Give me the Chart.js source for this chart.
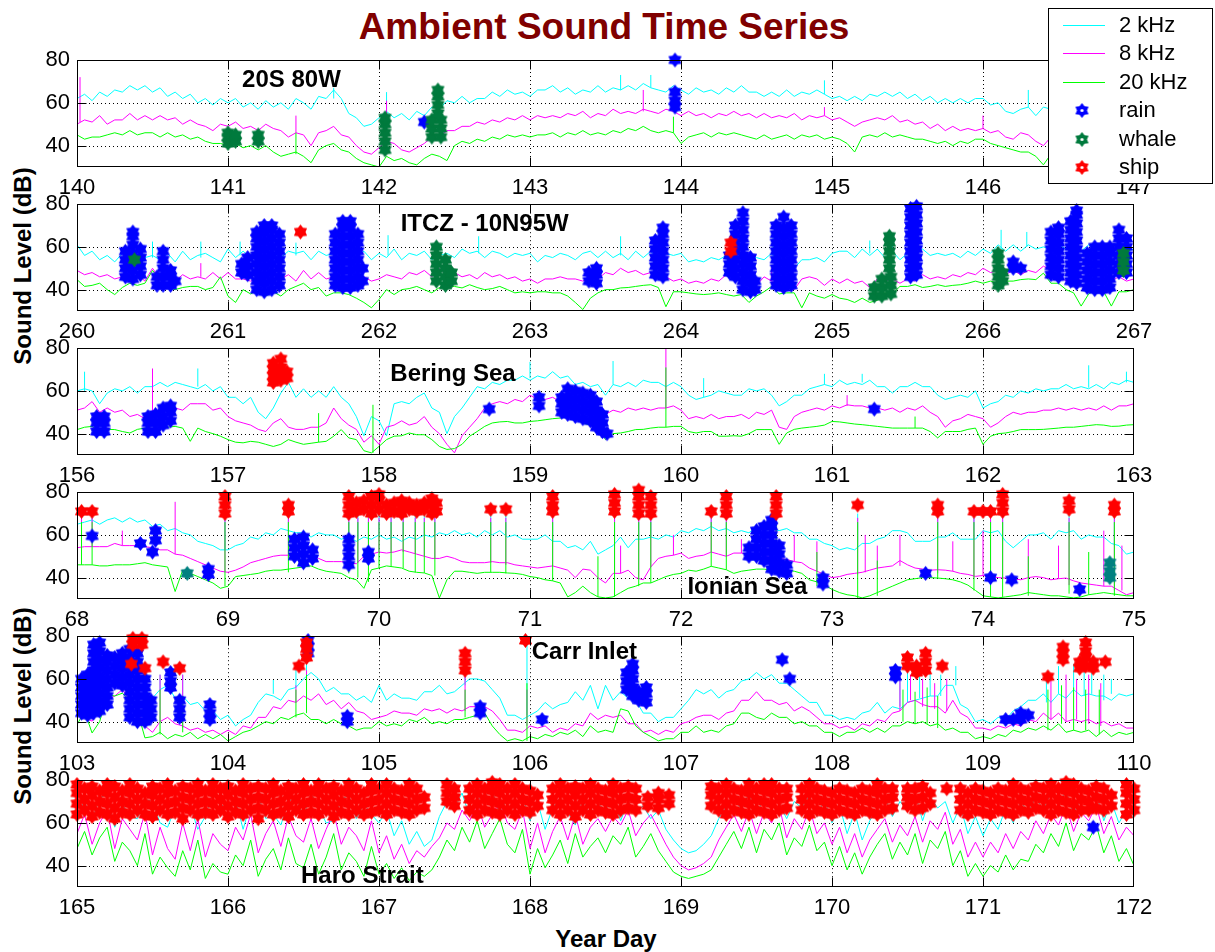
<!DOCTYPE html>
<html>
<head>
<meta charset="utf-8">
<script src="https://cdn.jsdelivr.net/npm/chart.js@4.4.1/dist/chart.umd.min.js"></script>
<style>
  body { margin: 0; background: #fff; width: 1215px; height: 952px; position: relative; overflow: hidden;
         font-family: "Liberation Sans", Arial, sans-serif; }
  canvas.panel { position: absolute; left: 0; }
  #title { position: absolute; left: 0; top: 8px; width: 1208px; text-align: center; font: bold 37px/37px "Liberation Sans", Arial, sans-serif; color: #800000; }
  .ylab { position: absolute; width: 300px; text-align: center; font: bold 24px/24px "Liberation Sans", Arial, sans-serif; transform: rotate(-90deg); }
  #xlab { position: absolute; left: 456px; top: 927px; width: 300px; text-align: center; font: bold 24px/24px "Liberation Sans", Arial, sans-serif; }
</style>
</head>
<body>
<div id="title">Ambient Sound Time Series</div>
<div class="ylab" style="left:-127px; top:254px">Sound Level (dB)</div>
<div class="ylab" style="left:-127px; top:694px">Sound Level (dB)</div>
<div id="xlab">Year Day</div>
<script>
// ── Data ──────────────────────────────────────────────────────────────────
// one value every 0.05 day from the first day of each panel
const STEP = 0.05;
const FIRST_DAY = [140, 260, 156, 68, 103, 165];
const SITES = ['20S 80W', 'ITCZ - 10N95W', 'Bering Sea', 'Ionian Sea', 'Carr Inlet', 'Haro Strait'];
const DB_TICKS = [40, 60, 80];

// 20S 80W
const kHz2_1 = [62,64,61,65,63,66,65,68,66,68, 65,67,63,65,62,64,60,62,59,62,
  60,62,58,60,57,61,58,60,57,62, 60,57,63,62,66,62,55,53,49,50,
  53,56,53,55,52,56,54,58,57,61, 60,63,60,62,62,65,63,66,64,65,
  63,66,66,68,65,67,64,66,65,68, 65,67,66,68,66,69,67,66,65,68,
  66,64,67,65,66,64,67,65,68,65, 65,63,65,63,66,63,65,64,66,64,
  62,63,61,63,61,64,63,65,63,65, 62,64,61,63,60,62,60,62,60,62,
  62,59,60,56,55,57,58,54,58,57, 60,58,59,57,59,57,58,60,57,59, 59];
const kHz8_1 = [50,52,51,54,50,52,52,55,52,54, 52,54,52,53,50,52,50,49,47,50,
  49,51,48,49,47,50,48,47,44,46, 45,40,46,47,49,45,44,40,37,36,
  39,42,41,38,37,39,41,44,44,47, 47,49,49,51,50,52,51,53,52,54,
  52,54,53,54,53,55,54,56,53,55, 54,57,55,56,55,57,56,55,57,56,
  54,56,54,55,53,55,54,56,54,55, 53,55,53,54,53,55,52,54,53,54,
  52,53,51,49,51,52,53,52,54,51, 52,50,51,48,50,47,49,47,48,47,
  48,46,47,44,43,46,45,42,40,44, 46,44,45,44,45,43,45,44,45,44, 45];
const kHz20_1 = [45,43,44,44,45,46,45,47,45,46, 46,44,46,44,45,43,44,42,41,41,
  40,41,39,40,38,40,37,35,36,37, 35,32,38,40,41,38,37,34,32,31,
  30,35,33,34,32,31,34,36,35,33, 40,42,41,43,42,44,43,45,44,45,
  44,45,45,46,44,46,45,47,45,46, 45,47,46,48,47,49,47,46,47,46,
  41,44,45,46,44,46,45,46,45,44, 43,45,43,44,45,43,45,44,45,43,
  44,43,41,37,44,45,44,46,44,45, 44,43,43,42,41,42,40,42,41,43,
  43,41,40,39,38,37,37,35,31,36, 38,36,37,36,37,35,37,36,37,36, 37];
// short spikes: [day, level before, peak]
const spk2_1 = [[141.7, 62, 67], [142.05, 56, 65], [143.6, 66, 73], [143.8, 67, 73], [144.95, 64, 70.5], [146.3, 58, 66]];
const spk8_1 = [[140.02, 51, 72], [141.45, 46, 54], [142.05, 42, 61], [143.75, 56, 66], [143.95, 56, 67], [144.95, 54, 58], [146.0, 48, 54]];
const spk20_1 = [[141.45, 36, 46], [143.95, 46, 53.5]];
const rain_1 = [[142.3, 51], [143.96, 58,61,65], [143.96, 80]];
const whale_1 = [[141.0, 41,44,46], [141.05, 42,45], [141.2, 42,45], [142.04, 38,42,46,50,53],
  [142.35, 44,48,52], [142.41, 44,48,52], [142.39, 55,59,63,66]];
const ship_1 = [];

// ITCZ - 10N95W
const kHz2_2 = [61,56,58,54,56,53,57,52,54,55, 56,54,57,53,58,54,56,57,55,53,
  59,55,58,55,56,54,57,55,58,57, 58,54,58,56,57,53,58,55,58,54,
  57,55,59,54,57,56,58,54,56,57, 55,59,57,58,55,58,57,55,57,56,
  57,53,56,55,57,56,54,57,58,55, 58,55,57,54,58,55,58,54,57,56,
  57,53,54,53,55,54,56,56,59,55, 55,54,57,53,53,50,54,54,55,53,
  57,58,58,55,59,56,59,55,58,54, 57,57,59,56,57,56,57,55,58,56,
  59,57,61,58,61,58,61,59,60,59, 61,59,61,58,61,58,59,58,61,58, 59];
const kHz8_2 = [49,47,48,46,47,45,46,45,47,44, 50,45,45,44,47,45,46,45,48,45,
  48,45,45,44,45,44,45,45,47,44, 49,45,48,45,46,44,46,43,46,44,
  45,47,46,45,48,47,49,46,50,47, 48,46,47,45,48,46,47,45,46,44,
  45,43,45,45,46,45,45,44,46,45, 48,47,50,48,49,47,48,45,46,44,
  45,43,44,43,45,44,47,46,48,46, 42,46,44,44,41,40,45,46,45,42,
  45,43,45,43,44,41,45,44,45,43, 45,44,47,45,46,45,47,46,48,47,
  50,48,49,47,49,47,49,48,51,49, 47,44,47,44,46,44,46,44,46,44, 45];
const kHz20_2 = [44.7,41.5,42,43,40,37.7,41,43,42,43, 49,44.7,41,40,41,41.5,41.5,40,41,46,
  37,34,40,38,40,37,39,37,40,41.5, 43,40,41,37,38.5,38.5,37.7,36,34,31.5,
  35.4,40,37.7,40,40.5,41.5,40,38.5,41,41.5, 41.5,40.8,42.3,41,40,40.5,41.5,40,38.5,39,
  38.5,39,39,38.5,38.5,37,34,30.7,36,38.5, 40,40,40.8,41,41.5,42,42.3,41,32,39,
  39,38.5,38,37.7,38,38.5,37.7,37,37.7,34, 37,39,41.5,38,38.5,38.5,31.5,38.5,37,36,
  37.7,36,35.4,34,36,34,35,38.5,38,41.5, 41.5,42.3,41,41.5,42.3,41.5,42,42.3,43,44,
  43,44,43,44,44,44.7,45,44.7,47.7,43, 43,40,38.5,32.3,38,40,39,32.3,39,39, 40];
const spk2_2 = [[260.5, 55, 62.5], [260.82, 55, 62.5], [261.08, 56, 62.5], [261.45, 56, 62], [262.06, 56, 65.5],
  [262.66, 57, 65], [263.6, 56, 65], [264.61, 55, 66], [265.25, 57, 63], [265.4, 57, 66], [266.12, 59, 68], [266.29, 60, 67]];
const spk8_2 = [[260.82, 46, 52.4], [264.6, 44, 50]];
const spk20_2 = [];
const rain_2 = [
  [260.32, 46,50,54,58], [260.37, 45,49,53,57,61,65,67], [260.42, 47,51,55,59],
  [260.53, 42,46], [260.57, 42,46,50,54,58], [260.62, 42,46,49], [260.65, 44],
  [261.09, 48,52], [261.13, 47,51,55],
  [261.19, 40,44,48,52,56,60,64,67], [261.24, 39,43,47,51,55,59,63,67,70],
  [261.29, 40,44,48,52,56,60,64,68,70], [261.34, 42,46,50,54,58,62,66],
  [261.71, 42,46,50,54,58,62,66], [261.76, 41,45,49,53,57,61,65,69,72],
  [261.81, 41,45,49,53,57,61,65,69,72], [261.86, 42,46,50,54,58,62,66], [261.89, 44,50],
  [263.39, 44,48], [263.44, 43,47,50],
  [263.83, 47,51,55,59,63], [263.88, 46,50,54,58,62,66,69],
  [264.32, 48,52,56], [264.36, 46,50,54,58,62,66,70], [264.41, 40,44,48,52,56,60,64,68,72,76],
  [264.46, 39,43,47,51,55], [264.49, 40,44],
  [264.63, 42,46,50,54,58,62,66,70], [264.68, 41,45,49,53,57,61,65,69,74], [264.73, 42,46,50,54,58,62,66,70],
  [265.52, 46,50,54,58,62,66,70,74,78], [265.56, 47,51,55,59,63,67,71,75,79],
  [266.2, 50,53], [266.25, 50],
  [266.45, 47,51,55,59,63,67], [266.5, 46,50,54,58,62,66,69],
  [266.58, 44,48,52,56,60,64,68,72], [266.62, 43,47,51,55,59,63,67,71,75,77],
  [266.69, 41,45,49,53,57], [266.74, 40,44,48,52,56,60], [266.79, 40,44,48,52,56,60], [266.84, 41,45,49,53,57,60],
  [266.9, 48,52,56,60,64,68], [266.95, 48,52,56,60,64]];
const whale_2 = [[260.38, 54], [262.38, 44,48,52,56,60], [262.44, 42,46,50,54], [262.48, 44,48],
  [265.38, 50,54,58,62,65], [265.28, 37,41], [265.33, 37,41,45], [265.39, 38,42,46],
  [266.1, 42,46,50,54,57], [266.13, 44,48], [266.93, 49,53,57]];
const ship_2 = [[261.48, 67], [264.33, 58,62]];

// Bering Sea
const kHz2_3 = [60,61,60,54,59,61,60,62,59,62, 62,64,62,64,63,62,61,63,60,62,
  57,57,54,57,50,47,52,59,64,57, 61,57,60,57,62,57,54,48,39,48,
  46,39,54,55,54,57,59,52,50,40, 48,52,57,62,61,64,63,65,65,67,
  65,67,66,69,66,67,63,64,62,63, 58,63,62,64,62,65,64,64,62,64,
  62,58,56,57,58,60,59,58,58,61, 60,61,58,53,55,58,58,61,62,63,
  62,65,63,64,63,65,62,62,59,62, 62,64,62,62,58,56,57,58,57,60,
  52,54,55,58,57,60,59,61,60,61, 61,63,61,62,61,63,61,64,63,65, 64];
const kHz8_3 = [51,52,55,50,52,50,51,48,49,47, 48,50,49,52,51,54,54,54,51,52,
  48,46,45,44,42,41,45,47,43,42, 42,43,43,45,52,47,44,42,36,39,
  35,43,44,46,44,45,48,43,40,35, 31,39,43,47,52,54,55,54,56,55,
  58,56,56,57,55,56,53,52,51,50, 49,51,50,52,51,52,51,52,52,53,
  51,47,48,47,49,47,48,48,49,47, 50,49,51,43,42,48,50,51,52,51,
  53,52,53.5,53,53,52,52,51,52,50, 52,51,53,50,48,43,46,47,49,48,
  47,43,45,48,50,49,50,50,51,51, 52,51,52,51,52,51,53,51,53,53, 54];
const kHz20_3 = [41.9,43,43.4,41,42,41.9,41,40.3,42,42.6, 42,41.9,43,43.4,42.6,36.4,42.6,41,40,38.8,
  37.2,36,35.7,36.4,36,35,34,35,37.2,36, 35,35.5,36,36.4,38.8,41.9,38,37.2,32,31,
  34,37.2,38.8,39,40.3,39.5,39.5,37.2,34,32.6, 33,35,38.8,41,43.4,45,45.5,45.7,45,45,
  45.7,46,46.5,47,47.3,48,47.3,45,44,43.4, 37.2,40,40.3,41,41.9,42,42.6,43,43,43.4,
  43.4,41,40.3,41,41,38.8,38.8,39,38.8,40, 41.9,41.9,41.9,35,40.3,42,42.6,43,43.4,44,
  45.7,45.5,45,44.5,44.2,43.8,43.4,43,42.6,42.6, 42.6,42.6,42.6,41,38,41,41,41,42,42.6,
  35,38.8,40,40.3,41,41.9,41.9,41.9,42,42.3, 42.6,43,43,43.4,43.8,44.2,44,43.4,43.5,44, 44.2];
const spk2_3 = [[156.05, 60, 69], [156.8, 62, 70.5], [159.0, 66, 73.6], [159.55, 63, 74], [160.15, 57, 66],
  [160.95, 63, 68], [161.2, 64, 68], [162.7, 61.5, 72], [162.95, 64, 69]];
const spk8_3 = [[156.5, 48, 70.5], [159.9, 52, 82], [161.1, 53, 58]];
const spk20_3 = [[157.6, 36, 49.6], [157.96, 31, 53.5], [159.9, 43, 71], [161.55, 42.6, 48]];
const rain_3 = [[156.13, 41,45,48], [156.18, 41,45,48], [156.47, 41,45,48], [156.52, 41,45,49],
  [156.57, 44,48,52], [156.62, 46,50,53], [158.73, 51.5], [159.06, 53,57],
  [159.21, 50,54,57], [159.25, 49,53,57,61], [159.3, 48,52,56,60], [159.35, 47,51,55,59],
  [159.4, 46,50,54,58], [159.44, 43,47,51,55], [159.48, 41,45,49], [159.51, 40], [161.28, 51.5]];
const whale_3 = [];
const ship_3 = [[157.3, 64,67,70,73], [157.35, 65,68,71,75], [157.39, 66,69]];

// Ionian Sea
const kHz2_4 = [65,66,67,65,67,68,66,68,66,67, 64,65,62,63,61,60,57,56,55,53,
  53,55,56,59,58,61,60,63,62,61, 61,59,61,60,60,58,59,57,59,58,
  60,58,59,57,59,58,60,59,61,60, 62,60,61,59,62,60,62,59,60,58,
  58,58,60,57,57,54,55,53,57,51, 53,55,59,54,58,58,59,58,60,59,
  62,61,63,62,64,62,63,61,62,61, 64,62,63,62,63,61,61,58,58,56,
  55,53,54,53,56,56,58,59,62,62, 61,57,57,57,59,59,61,58,58,58,
  62,61,62,57,54,57,60,60,61,58, 62,61,62,58,60,59,59,56,55,51, 52];
const kHz8_4 = [54,54.5,54.5,54.5,54.5,56,55,55,55,54.5, 54,53,53,51,50.5,49,47.5,46,44.5,43,
  42.5,43.5,45,47,48,49,50,50.5,50.5,50, 50.5,50.5,49,47.5,47.5,47.5,47,46.5,50,51,
  52,51.5,52,53,52,51,50,49,49,50, 49,47.5,47,47,47,47.5,47,47,46,45.5,
  45,44.5,45,45.5,44.5,43.5,40,44,43.5,40, 37.5,42,42,43.5,40,39,45,49,50,50.5,
  51.5,49,50,50.5,52,51,50,51.5,51.5,51, 50.5,50,49.5,49,48.5,47.5,47,44.5,43,41.5,
  40,40.5,41.5,42,42.5,43.5,44.5,45,45.5,48, 46,44.5,44,43.5,43.7,43.5,43,42,41.5,40.6,
  41,40.6,40,39.8,39.5,39,40,40.5,40,39, 39.5,39.8,38.5,37.5,37,36.5,36,36,34,32, 33];
const kHz20_4 = [46,46,46,45.5,45.5,46,46,46,46.5,47, 46,45.5,45,33.5,43.5,42,40.5,39,37.5,35,
  36,40.5,41,41.5,42,43,43.5,43.5,44,44.5, 45,45.5,44,43,42.5,42,40,39,35,43.7,
  44.5,45.5,45,44.5,43,42.5,42.2,41,30.5,39, 43,43,42.5,42,42.5,42.5,42.5,42.2,42,41.5,
  40.5,40,39,38.5,37.5,31,33,36,33,31, 30.5,31,33,35,36,37.5,37.5,39,40.5,41.5,
  42,43.5,43,44,45.3,44.5,43.7,42,43,43.5, 44,44,43.5,43.7,43.5,43,42,39,38,36.5,
  34.5,33,32,31.5,30.5,31.5,33,34.5,36,37.5, 39,39.5,40,40,39.8,39.5,39,38,36.5,34,
  31.5,31,30.5,31,31.5,32,33,32.5,32,31.5, 31.5,31,30.5,31,32,32.5,33,32.5,32,31.5, 31.5];
const spk2_4 = [[68.03,66,70], [68.1,66,70], [68.98,53,70], [69.4,59,70], [69.8,59,70], [69.86,58,70], [69.93,58,70],
  [70.0,60,70], [70.08,58,70], [70.16,59,70], [70.24,58,70], [70.3,60,70], [70.37,61,70], [70.74,60,70], [70.84,59,70],
  [71.15,57,70], [71.56,55,70], [71.72,58,70], [71.8,59,70], [72.2,64,70], [72.3,63,70], [72.63,62,70], [73.17,54,70],
  [73.7,59,70], [73.94,58,70], [74.05,61,70], [74.13,57,70], [74.57,61,70], [74.87,55,70]];
const spk8_4 = [[68.03,54.5,68], [68.1,54.5,68], [68.98,42.5,68], [69.4,49,68], [69.8,47,68], [69.86,47,68], [69.93,50,68],
  [70.0,52,68], [70.08,52,68], [70.16,52,68], [70.24,51,68], [70.3,50,68], [70.37,49,68], [70.74,47,68], [70.84,46,68],
  [71.15,45.5,68], [71.56,42,68], [71.72,40,68], [71.8,45,68], [72.2,52,68], [72.3,50,68], [72.63,49,68], [73.17,41.5,68],
  [73.7,42,68], [73.94,40,68], [74.05,40.6,68], [74.13,39.8,68], [74.57,36.5,68], [74.87,34,68],
  [68.3,55,62], [68.65,51,75.5], [71.6,42,55], [71.95,50.5,60], [72.4,51.5,58], [72.5,50.5,62], [72.75,47.5,60],
  [72.9,43,57], [73.22,42.5,60], [73.3,44.5,55], [73.45,45.5,60], [73.8,43,57], [74.0,41,62], [74.3,40,58],
  [74.5,39.5,55], [74.8,36,62], [74.92,34,55]];
const spk20_4 = [[68.03,46,66], [68.1,46,66], [68.98,36,66], [69.4,42.5,66], [69.8,42,66], [69.86,40,66], [69.93,38,66],
  [70.0,44.5,66], [70.08,45,66], [70.16,44.5,66], [70.24,42.5,66], [70.3,42.2,66], [70.37,41,66], [70.74,42.5,66],
  [70.84,42,66], [71.15,38.5,66], [71.56,31,66], [71.72,36,66], [71.8,37.5,66], [72.2,45.3,66], [72.3,43.7,66],
  [72.63,43.5,66], [73.17,30.5,66], [73.7,39.8,66], [73.94,34,66], [74.05,31,66], [74.13,31,66], [74.57,32.5,66],
  [74.87,31.5,66], [71.45,31,50], [72.9,36,52], [73.3,31.5,48], [74.3,31.5,50], [74.7,32,52]];
const rain_4 = [[68.1, 59.5], [68.42, 56], [68.52, 57.5,62], [68.5, 52], [68.87, 41.5,44],
  [69.44, 50,54,58], [69.5, 47,51,55,59], [69.56, 49,53], [69.8, 46,50,54,58], [69.93, 49,52],
  [72.45, 50,54], [72.5, 50,54,58,62], [72.55, 48,52,56,60,64], [72.6, 44,48,52,56,60,64,67],
  [72.65, 43,47,51,55], [72.7, 42,46], [72.94, 37,40], [73.62, 42], [74.05, 40], [74.19, 39], [74.64, 34.5]];
const whale_4 = [[68.73, 42], [74.84, 40,43,47]];
const ship_4 = [[68.03, 71], [68.1, 71], [68.98, 70,74,78], [69.4, 71,74],
  [69.8, 70,74,78], [69.85, 71,75], [69.9, 72,76], [69.95, 70,74,78], [70.0, 72,76,79], [70.05, 70,74],
  [70.1, 71,75], [70.15, 70,73,76], [70.2, 72,75], [70.25, 71,74], [70.3, 72,75], [70.35, 70,74,77], [70.38, 71,75],
  [70.74, 72], [70.84, 72], [71.15, 71,74,78], [71.56, 71,75,79], [71.72, 70,74,78,81], [71.8, 70,74,78],
  [72.2, 71], [72.3, 70,74,78], [72.63, 70,74,78], [73.17, 74], [73.7, 71,74],
  [73.94, 71], [74.0, 71], [74.05, 71], [74.13, 71,75,79], [74.57, 72,76], [74.87, 71,74]];

// Carr Inlet
const kHz2_5 = [55.7,58,62,60,56,60,63,58,57,55, 51,55,57,51,52,48,49,45,45,41,
  43,38,41,43,49,53,52,50,55,56, 60,63,60,54,56,53,53,50,52,49,
  57,50,53,51,51,50,54,54,57,53, 54,57,60,60,59,55,51,43,43,41,
  43,45,49,46,48,49,54,50,57,46, 57,50,54,51,50,44,44,40,42,42,
  46,50,55,53,55,51,54,55,59,60, 63,60,62,58,58,55,52,49,49,43,
  43,41,42,41,44,45,49,44,47,46, 49,50,51,52,52,57,57,48,46,40,
  41,39,42,41,45,47,50,50,53,49, 53,51,55,52,53,52,52,50,53,52, 53];
const kHz8_5 = [43.3,42,40.2,48,50,52,55,50,45,38, 35,40,42,39,38,36,37,35,36,34,
  36,34,38,37,42,42,47,46,50,49, 52,50,53,48,50,46,49,45,44,41,
  42,43,45,44,44,43,46,45,46,44, 46,45,47,47,47,45,41,36,36,35,
  38,37,38,35,37,36,39,38,44,41, 43,42,43,39,39,35,36,34,36,35,
  39,40,42,43,43,41,44,45,50,50, 54,50,50,48,49,45,47,45,42,39,
  39,37,38,36,39,38,41,40,44,45, 49,50,48,47,47,44,50,44,42,37,
  37,36,38,37,39,38,41,40,44,41, 44,40,41,40,41,39,40,38,39,37, 37];
const kHz20_5 = [38.6,44.8,34.7,40,52.6,52,53.3,50,45,32.4, 33,35,32,34,33,35,32,34,32,34,
  31,33,35,36,38,40,39,42,41,43, 44,41,41,39,41,39,38,36,37,37,
  40,38,39,38,41,40,42,39,40,39, 41,41,42,43,44,38,34,31,32,31,
  33,32,34,33,35,34,36,33,38,35, 36,35,46,45,38,35,33,31,32,32,
  35,35,38,35,36,35,38,39,44,44, 42,41,44,42,42,39,40,38,38,35,
  35,33,35,35,37,35,37,35,38,38, 40,39,40,38,39,36,37,35,35,32,
  33,32,34,33,36,35,37,36,38,36, 39,35,36,35,36,33,36,33,35,34, 35];
const spk2_5 = [[103.55,55,62], [103.7,49,62], [104.3,53,59.5], [104.45,56,66], [104.52,60,70], [105.57,57,66],
  [105.98,43,76], [108.45,47,60], [108.5,49,64], [108.58,51,65], [108.65,52,63], [108.72,52,62], [108.82,57,66],
  [109.42,49,62], [109.5,53,66], [109.6,55,67], [109.67,52,65], [109.72,53,63], [109.8,50,62], [109.85,53,60]];
const spk8_5 = [[103.55,40,62], [103.7,37,62], [104.45,49,57], [104.52,52,64], [105.57,45,62], [105.98,38,55],
  [108.45,45,60], [108.52,50,62], [108.6,47,60], [108.68,46,58], [108.76,45,60], [109.45,41,60], [109.55,40,62],
  [109.62,41,60], [109.7,39,62], [109.78,38,58]];
const spk20_5 = [[103.55,34,55], [103.7,35,52], [104.45,42,55], [104.52,44,62], [105.57,42,55], [105.98,31,58],
  [108.47,40,55], [108.55,39,54], [108.63,39,56], [108.7,37,52], [109.43,36,55], [109.52,39,57], [109.6,36,56],
  [109.68,36,55], [109.77,34,55]];
const rain_5 = [[103.03, 44,48,52,56,60], [103.07, 43,47,51,55,59,62], [103.11, 44,48,52,56,60,64,68,72,76],
  [103.15, 45,49,53,57,61,65,69,73,77], [103.2, 48,52,56,60,64,68,71], [103.25, 58,62,66,70],
  [103.3, 57,61,65,69,72], [103.35, 42,46,50,54,58,62,66,70,74], [103.4, 40,44,48,52,56,60,64,68,72],
  [103.45, 40,44,48,52,56,60], [103.49, 42,46,50], [103.62, 56,59,63], [103.68, 42,46,50], [103.88, 41,44,48],
  [104.53, 72,75,78], [104.79, 40,42.5], [105.67, 44,47], [106.08, 41],
  [106.64, 55,59,63], [106.68, 52,56,60,64,67], [106.72, 50,54], [106.77, 49,53,56],
  [107.67, 69], [107.72, 60], [108.42, 61,64], [109.15, 41], [109.2, 41], [109.25, 41,44], [109.3, 43]];
const whale_5 = [];
const ship_5 = [[103.37, 76,79], [103.43, 76,79], [103.36, 67], [103.45, 65], [103.57, 68], [103.68, 65],
  [104.47, 66], [104.52, 70,74,77], [105.57, 64,68,72], [105.97, 78],
  [108.5, 66,70], [108.56, 63,66], [108.62, 64,68,72], [108.73, 66],
  [109.43, 61], [109.53, 69,72,75], [109.64, 65,68], [109.68, 66,70,73,77], [109.73, 65,68], [109.81, 68]];

// Haro Strait
const kHz2_6 = [64,70,61,72,73,58,69,63,62,71, 70,60,58,67,72,68,57,63,74,69,
  66,71,57,69,73,62,64,59,70,72, 63,74,67,60,61,71,73,62,69,64,
  60,66,54,61,50,56,49,52,63,70, 67,74,63,71,73,75,64,72,66,73,
  61,70,57,67,72,65,59,71,63,69, 66,72,61,70,65,68,62,66,57,52,
  48,46,47,50,54,62,68,72,66,74, 64,72,75,69,62,70,67,73,63,71,
  60,68,55,65,52,61,67,72,63,70, 66,74,61,72,67,70,60,68,55,63,
  54,62,57,67,60,70,65,72,66,74, 69,75,64,72,67,74,61,70,60,66, 62];
const kHz8_6 = [55,64,50,60,66,48,62,57,52,65, 45,58,48,43,60,47,62,44,55,50,
  47,58,52,64,46,55,61,49,63,54, 51,62,48,57,65,50,58,54,47,61,
  46,54,43,50,41,47,44,49,53,60, 57,66,61,69,58,64,70,60,57,66,
  48,60,46,56,63,52,64,50,58,62, 56,63,59,66,54,60,64,57,50,44,
  40,38,39,41,44,52,58,64,56,66, 55,65,60,68,53,62,57,67,55,60,
  50,58,46,55,44,52,57,62,51,59, 54,63,51,61,57,65,50,57,44,51,
  44,51,46,55,48,56,52,61,55,64, 59,68,56,65,61,68,55,63,52,58, 54];
const kHz20_6 = [48,56,45,53,58,42,51,47,40,55, 36,44,39,35,47,38,52,34,41,37,
  36,45,40,52,35,43,48,38,53,41, 39,50,36,44,55,38,46,42,35,49,
  36,41,34,39,33,37,35,38,44,52, 47,58,51,61,48,55,62,50,46,57,
  36,48,39,45,52,41,55,44,49,53, 46,54,50,58,44,49,55,47,42,37,
  35,34,35,36,38,44,50,56,48,58, 46,57,52,60,45,53,49,59,47,51,
  40,49,38,46,36,44,50,55,43,51, 45,55,41,52,48,56,40,47,35,41,
  35,40,37,45,38,43,42,50,46,55, 49,60,47,55,52,59,46,54,42,48, 40];
const spk2_6 = [];
const spk8_6 = [];
const spk20_6 = [];
const rain_6 = [[171.73, 58]];
const whale_6 = [];
const ship_6 = [[165.0, 64,69,74,78], [165.05, 66,71,76], [165.1, 63,68,73,77], [165.15, 65,70,75],
  [165.2, 64,69,74,78], [165.25, 62,67,72,77], [165.3, 65,70,75], [165.35, 64,69,74,78], [165.4, 66,71,76],
  [165.45, 64,69,74], [165.5, 63,68,73,77], [165.55, 66,71,76], [165.6, 64,69,74,78], [165.65, 65,70,75],
  [165.7, 62,67,72,77], [165.75, 66,71,76], [165.8, 64,69,74,78], [165.85, 65,70,75], [165.9, 64,69,74,78],
  [165.95, 66,71,76], [166.0, 63,68,73,77], [166.05, 65,70,75], [166.1, 64,69,74,78], [166.15, 66,71,76],
  [166.2, 62,67,72,77], [166.25, 66,71,76], [166.3, 64,69,74,78], [166.35, 65,70,75], [166.4, 63,68,73,77],
  [166.45, 66,71,76], [166.5, 64,69,74,78], [166.55, 65,70,75], [166.6, 64,69,74,78], [166.65, 66,71,76],
  [166.7, 63,68,73,77], [166.75, 65,70,75], [166.8, 64,69,74,78], [166.85, 66,71,76], [166.9, 64,69,74],
  [166.95, 65,70,75,78], [167.0, 66,71,76], [167.05, 64,69,74,78], [167.1, 66,71,76], [167.15, 65,70,75],
  [167.2, 64,69,74,78], [167.25, 66,71,76], [167.3, 67,72],
  [167.45, 70,74,78], [167.5, 68,72,76],
  [167.6, 66,71,76], [167.65, 64,69,74,78], [167.7, 66,71,76], [167.75, 65,70,75,79], [167.8, 64,69,74,78],
  [167.85, 66,71,76], [167.9, 64,69,74,78], [167.95, 66,71,76], [168.0, 65,70,75], [168.05, 68,73],
  [168.15, 66,71,76], [168.2, 64,69,74,78], [168.25, 66,71,76], [168.3, 63,68,73,77], [168.35, 66,71,76],
  [168.4, 64,69,74,78], [168.45, 66,71,76], [168.5, 65,70,75], [168.55, 64,69,74,78], [168.6, 66,71,76],
  [168.65, 67,72,77], [168.7, 66,71,76], [168.78, 68,72], [168.85, 67,71,74], [168.92, 69,73],
  [169.2, 68,73,77], [169.25, 66,71,76], [169.3, 64,69,74,78], [169.35, 66,71,76], [169.4, 65,70,75],
  [169.45, 64,69,74,78], [169.5, 66,71,76], [169.55, 65,70,75,78], [169.6, 64,69,74,78], [169.65, 66,71,76],
  [169.7, 67,72,76],
  [169.8, 66,71,76], [169.85, 64,69,74,78], [169.9, 66,71,76], [169.95, 65,70,75], [170.0, 64,69,74],
  [170.05, 66,71,76], [170.1, 65,70,75], [170.15, 64,69,74], [170.2, 66,71,76], [170.25, 65,70,75],
  [170.3, 64,69,74,78], [170.35, 66,71,76], [170.4, 67,72,76],
  [170.5, 68,72,76], [170.55, 66,71,76], [170.6, 67,72,77], [170.65, 69,74], [170.76, 76],
  [170.85, 66,71,76], [170.9, 64,69,74], [170.95, 66,71,76], [171.0, 65,70,75], [171.05, 64,69,74],
  [171.1, 66,71,76], [171.15, 65,70,75], [171.2, 64,69,74,78], [171.25, 66,71,76], [171.3, 65,70,75],
  [171.35, 67,72,77], [171.4, 66,71,76], [171.45, 64,69,74,78], [171.5, 66,71,76], [171.55, 65,70,75,79],
  [171.6, 64,69,74,78], [171.65, 66,71,76], [171.7, 66,70,75], [171.75, 67,72,77], [171.8, 66,71,76],
  [171.85, 68,73], [171.95, 64,69,74,78], [172.0, 66,71,76]];

// ── Layout ────────────────────────────────────────────────────────────────
const PANEL_TOP = [60, 204, 348, 492, 636, 780];
const PANEL_H = 107;
const PAD_TOP = 20;
const XAXIS_H = 34;
const SITE_AT = [[141.42, 70.7], [262.70, 70.7], [158.49, 67.9], [72.44, 35.3], [106.36, 72.6], [166.89, 34.9]];
const FONT = '"Liberation Sans", Arial, sans-serif';
const COLORS = { k2: '#00ffff', k8: '#ff00ff', k20: '#00ff00', rain: '#0000ff', whale: '#007a3d', whaleTeal: '#008080', ship: '#ff0000' };

const SERIES = [
  [kHz2_1, kHz8_1, kHz20_1], [kHz2_2, kHz8_2, kHz20_2], [kHz2_3, kHz8_3, kHz20_3],
  [kHz2_4, kHz8_4, kHz20_4], [kHz2_5, kHz8_5, kHz20_5], [kHz2_6, kHz8_6, kHz20_6]];
const SPIKES = [
  [spk2_1, spk8_1, spk20_1], [spk2_2, spk8_2, spk20_2], [spk2_3, spk8_3, spk20_3],
  [spk2_4, spk8_4, spk20_4], [spk2_5, spk8_5, spk20_5], [spk2_6, spk8_6, spk20_6]];
const MARKS = [
  [rain_1, whale_1, ship_1], [rain_2, whale_2, ship_2], [rain_3, whale_3, ship_3],
  [rain_4, whale_4, ship_4], [rain_5, whale_5, ship_5], [rain_6, whale_6, ship_6]];

// ── Marker images (filled hexagram) ─────────────────────────────────────────
function hexagram(color, hole) {
  const c = document.createElement('canvas');
  c.width = c.height = 17;
  const g = c.getContext('2d');
  g.fillStyle = color;
  g.beginPath();
  for (let k = 0; k < 12; k++) {
    const r = k % 2 ? 5.0 : 7.6;
    const a = -Math.PI / 2 + k * Math.PI / 6;
    const px = 8.5 + r * Math.cos(a), py = 8.5 + r * Math.sin(a);
    if (k) g.lineTo(px, py); else g.moveTo(px, py);
  }
  g.closePath();
  g.fill();
  if (hole) {
    g.fillStyle = '#fff';
    g.beginPath(); g.arc(8.5, 8.5, 1.6, 0, Math.PI * 2); g.fill();
  }
  return c;
}
const STAR = {};
const STAR_LEGEND = {};
['rain', 'whale', 'whaleTeal', 'ship'].forEach(k => {
  STAR[k] = hexagram(COLORS[k], false);
  STAR_LEGEND[k] = hexagram(COLORS[k], true);
});

// ── Plugins ───────────────────────────────────────────────────────────────
const framePlugin = {
  id: 'frame',
  beforeDatasetsDraw(chart) {
    const { ctx, chartArea: a, scales: { x, y } } = chart;
    ctx.save();
    ctx.strokeStyle = '#000';
    ctx.lineWidth = 1;
    ctx.setLineDash([1, 3]);
    ctx.beginPath();
    for (let d = x.min + 1; d < x.max; d++) {
      const px = Math.round(x.getPixelForValue(d)) + 0.5;
      ctx.moveTo(px, a.top); ctx.lineTo(px, a.bottom);
    }
    DB_TICKS.slice(0, -1).forEach(v => {
      const py = Math.round(y.getPixelForValue(v)) + 0.5;
      ctx.moveTo(a.left, py); ctx.lineTo(a.right, py);
    });
    ctx.stroke();
    ctx.restore();
  },
  afterDatasetsDraw(chart) {
    const { ctx, chartArea: a, scales: { x, y } } = chart;
    const idx = chart.options.panelIndex;
    const L = Math.round(a.left) + 0.5, R = Math.round(a.right) - 0.5;
    const T = Math.round(a.top) + 0.5, B = Math.round(a.bottom) - 0.5;
    ctx.save();
    ctx.strokeStyle = '#000';
    ctx.lineWidth = 1;
    ctx.strokeRect(L, T, R - L, B - T);
    ctx.beginPath();
    for (let d = x.min + 1; d < x.max; d++) {
      const px = Math.round(x.getPixelForValue(d)) + 0.5;
      ctx.moveTo(px, B); ctx.lineTo(px, B - 9);
      ctx.moveTo(px, T); ctx.lineTo(px, T + 9);
    }
    DB_TICKS.forEach(v => {
      const py = Math.round(y.getPixelForValue(v)) + 0.5;
      ctx.moveTo(L, py); ctx.lineTo(L + 9, py);
      ctx.moveTo(R, py); ctx.lineTo(R - 9, py);
    });
    ctx.stroke();
    const [sx, sy] = SITE_AT[idx];
    ctx.fillStyle = '#000';
    ctx.font = 'bold 24px ' + FONT;
    ctx.textAlign = 'center';
    ctx.textBaseline = 'middle';
    ctx.fillText(SITES[idx], x.getPixelForValue(sx), y.getPixelForValue(sy));
    ctx.restore();
  }
};

const LEGEND_ITEMS = [
  { label: '2 kHz', line: COLORS.k2 }, { label: '8 kHz', line: COLORS.k8 }, { label: '20 kHz', line: COLORS.k20 },
  { label: 'rain', mark: 'rain' }, { label: 'whale', mark: 'whale' }, { label: 'ship', mark: 'ship' }];

const legendPlugin = {
  id: 'legendBox',
  afterDraw(chart) {
    const ctx = chart.ctx;
    ctx.save();
    ctx.fillStyle = '#fff';
    ctx.fillRect(1048, 8, 165, 176);
    ctx.strokeStyle = '#000';
    ctx.lineWidth = 1;
    ctx.strokeRect(1048.5, 8.5, 164, 175);
    ctx.font = '22px ' + FONT;
    ctx.textBaseline = 'middle';
    LEGEND_ITEMS.forEach((it, k) => {
      const ly = Math.round(25 + k * 28.4);
      if (it.line) {
        ctx.strokeStyle = it.line;
        ctx.lineWidth = 1.2;
        ctx.beginPath(); ctx.moveTo(1063, ly + 0.5); ctx.lineTo(1105, ly + 0.5); ctx.stroke();
      } else {
        ctx.drawImage(STAR_LEGEND[it.mark], 1082 - 8.5, ly - 8);
      }
      ctx.fillStyle = '#000';
      ctx.fillText(it.label, 1119, ly + 1);
    });
    ctx.restore();
  }
};

// ── Charts ────────────────────────────────────────────────────────────────
function lineSet(values, day0, color, order) {
  return {
    type: 'line', order,
    data: values.map((v, i) => ({ x: day0 + i * STEP, y: v })),
    borderColor: color, borderWidth: 1, pointRadius: 0, tension: 0, fill: false
  };
}
function spikeSet(spikes, color, order) {
  return {
    type: 'line', order,
    data: spikes.flatMap(([d, base, peak]) => [{ x: d, y: base }, { x: d, y: peak }, { x: d, y: null }]),
    borderColor: color, borderWidth: 1, pointRadius: 0, tension: 0, fill: false, spanGaps: false
  };
}
function markSet(cols, star, order) {
  return {
    type: 'scatter', order, clip: false, showLine: false,
    data: cols.flatMap(([x, ...ys]) => ys.map(y => ({ x, y }))),
    pointStyle: star, pointRadius: 7, pointHoverRadius: 7,
    backgroundColor: '#000', borderWidth: 0
  };
}

Chart.defaults.font.family = FONT;

FIRST_DAY.forEach((day0, idx) => {
  const padTop = idx === 0 ? PANEL_TOP[0] : PAD_TOP;
  const cv = document.createElement('canvas');
  cv.className = 'panel';
  cv.width = 1215;
  cv.height = padTop + PANEL_H + XAXIS_H;
  cv.style.top = (PANEL_TOP[idx] - padTop) + 'px';
  document.body.appendChild(cv);

  const [s2, s8, s20] = SERIES[idx];
  const [p2, p8, p20] = SPIKES[idx];
  const [rain, whale, ship] = MARKS[idx];
  const datasets = [
    markSet(ship, STAR.ship, -3),
    markSet(whale, idx === 3 ? STAR.whaleTeal : STAR.whale, -2),
    markSet(rain, STAR.rain, -1),
    spikeSet(p20, COLORS.k20, 1),
    lineSet(s20, day0, COLORS.k20, 1),
    spikeSet(p8, COLORS.k8, 2),
    lineSet(s8, day0, COLORS.k8, 2),
    spikeSet(p2, COLORS.k2, 3),
    lineSet(s2, day0, COLORS.k2, 3)
  ];

  new Chart(cv, {
    type: 'line',
    data: { datasets },
    options: {
      panelIndex: idx,
      responsive: false,
      animation: false,
      events: [],
      layout: { padding: { top: padTop, right: 1215 - 1134, left: 0, bottom: 0 } },
      plugins: { legend: { display: false }, tooltip: { enabled: false } },
      scales: {
        x: {
          type: 'linear', min: day0, max: day0 + 7,
          grid: { display: false, drawTicks: false }, border: { display: false },
          afterBuildTicks: s => { s.ticks = Array.from({ length: 8 }, (_, k) => ({ value: day0 + k })); },
          afterFit: s => { s.height = XAXIS_H; },
          ticks: { font: { size: 22 }, color: '#000', padding: 8, maxRotation: 0, minRotation: 0, autoSkip: false }
        },
        y: {
          type: 'linear', min: 30, max: 80,
          grid: { display: false, drawTicks: false }, border: { display: false },
          afterBuildTicks: s => { s.ticks = DB_TICKS.map(v => ({ value: v })); },
          afterFit: s => { s.width = 77; },
          ticks: { font: { size: 22 }, color: '#000', padding: 7 }
        }
      }
    },
    plugins: idx === 0 ? [framePlugin, legendPlugin] : [framePlugin]
  });
});
</script>
</body>
</html>
